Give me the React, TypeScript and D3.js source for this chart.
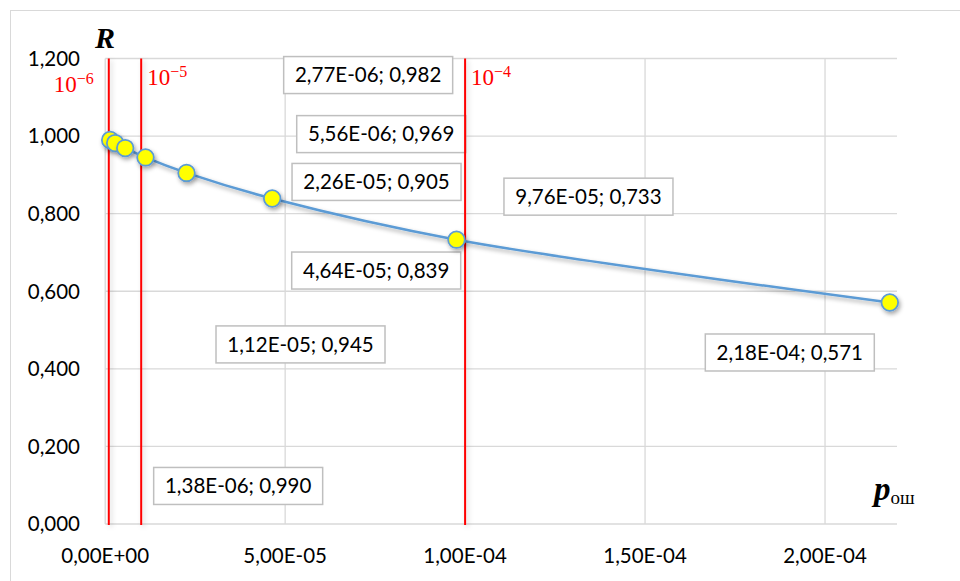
import React from "react";
import * as d3 from "d3";

const pValues = [1.38e-6, 2.77e-6, 5.56e-6, 1.12e-5, 2.26e-5, 4.64e-5, 9.76e-5, 2.18e-4];
const rValues = [0.99, 0.982, 0.969, 0.945, 0.905, 0.839, 0.733, 0.571];
const xTicks = [0, 5e-5, 1e-4, 1.5e-4, 2e-4];
const yTicks = [0, 0.2, 0.4, 0.6, 0.8, 1.0, 1.2];
const refLines = [1e-6, 1e-5, 1e-4];
const refLabels = ["−6", "−5", "−4"];

// label offsets from point (px) – layout only
const labelOffsets: [number, number][] = [
  [128, 346],
  [253, -68],
  [256, -14],
  [155, 187],
  [190, 9],
  [104, 72],
  [132, -43],
  [-100, 50],
];
const refLabelOffsets: [number, number][] = [
  [-55, 92],
  [6, 85],
  [6, 85],
];

const W = 960;
const H = 581;
const plot = { left: 105.2, right: 897, top: 58.5, bottom: 524 };

const fmtE = (v: number) => {
  const [m, e] = v.toExponential(2).split("e");
  const n = parseInt(e, 10);
  const sign = n < 0 ? "-" : "+";
  const ab = Math.abs(n).toString().padStart(2, "0");
  return `${m.replace(".", ",")}E${sign}${ab}`;
};
const fmtY = (v: number) => v.toFixed(3).replace(".", ",");

export default function App() {
  const x = d3.scaleLinear().domain([0, 2.2e-4]).range([plot.left, plot.right]);
  const y = d3.scaleLinear().domain([0, 1.2]).range([plot.bottom, plot.top]);
  const pts = pValues.map((p, i) => [x(p), y(rValues[i])] as [number, number]);
  const line = d3.line().curve(d3.curveCatmullRom.alpha(0.5))(pts) || "";
  const font = "Lato, 'Open Sans', sans-serif";
  const serif = "'Liberation Serif', 'DejaVu Serif', serif";

  return (
    <svg
      width={W}
      height={H}
      style={{ position: "absolute", left: 0, top: 0, background: "#fff" }}
    >
      <defs>
        <filter id="sh" filterUnits="userSpaceOnUse" x={0} y={0} width={W} height={H}>
          <feDropShadow dx="1.5" dy="2.5" stdDeviation="2" floodColor="#000" floodOpacity="0.35" />
        </filter>
        <filter id="shl" filterUnits="userSpaceOnUse" x={0} y={0} width={W} height={H}>
          <feDropShadow dx="2" dy="2" stdDeviation="2.5" floodColor="#000" floodOpacity="0.18" />
        </filter>
      </defs>
      <rect x={10.5} y={10.5} width={980} height={600} fill="#fff" stroke="#d9d9d9" strokeWidth={1} />

      {/* gridlines */}
      {yTicks.map((t) => (
        <line key={"gy" + t} x1={plot.left} x2={plot.right} y1={y(t)} y2={y(t)} stroke="#d9d9d9" strokeWidth={1.3} />
      ))}
      {xTicks.map((t) => (
        <line key={"gx" + t} x1={x(t)} x2={x(t)} y1={plot.top} y2={plot.bottom} stroke="#d9d9d9" strokeWidth={1.3} />
      ))}

      {/* y tick labels */}
      {yTicks.map((t) => (
        <text key={"ly" + t} x={80} y={y(t)} dy="0.36em" textAnchor="end" fontFamily={font} fontSize={20.5} fill="#000">
          {fmtY(t)}
        </text>
      ))}
      {/* x tick labels */}
      {xTicks.map((t) => (
        <text key={"lx" + t} x={x(t)} y={563} textAnchor="middle" fontFamily={font} fontSize={20.5} fill="#000">
          {fmtE(t)}
        </text>
      ))}

      {/* data labels */}
      {pts.map(([px, py], i) => {
        const cx = px + labelOffsets[i][0];
        const cy = py + labelOffsets[i][1];
        return (
          <g key={"dl" + i}>
            <rect x={cx - 84.5} y={cy - 18.5} width={169} height={37} fill="#fff" stroke="#bfbfbf" strokeWidth={1.5} />
            <text x={cx} y={cy} dy="0.36em" textAnchor="middle" fontFamily={font} fontSize={20.5} fill="#000">
              {`${fmtE(pValues[i])}; ${fmtY(rValues[i])}`}
            </text>
          </g>
        );
      })}

      {/* reference lines */}
      {refLines.map((v, i) => (
        <g key={"rl" + i}>
          <line x1={x(v)} x2={x(v)} y1={plot.top} y2={plot.bottom + 1} stroke="#ff0000" strokeWidth={2} filter="url(#shl)" />
          <text x={x(v) + refLabelOffsets[i][0]} y={refLabelOffsets[i][1]} fontFamily={serif} fontSize={23} fill="#ff0000">
            10
            <tspan fontSize={16} dy={-8}>
              {refLabels[i]}
            </tspan>
          </text>
        </g>
      ))}

      {/* series */}
      <path d={line} fill="none" stroke="#5b9bd5" strokeWidth={2.5} filter="url(#sh)" />
      {pts.map(([px, py], i) => (
        <circle key={"pt" + i} cx={px} cy={py} r={8.3} fill="#ffff00" stroke="#5b9bd5" strokeWidth={1.75} filter="url(#sh)" />
      ))}

      {/* axis titles */}
      <text x={105} y={48} textAnchor="middle" fontFamily={serif} fontStyle="italic" fontWeight="bold" fontSize={30} fill="#000">
        R
      </text>
      <text x={874} y={500} fontFamily={serif} fill="#000">
        <tspan fontStyle="italic" fontWeight="bold" fontSize={33}>p</tspan>
        <tspan fontSize={19} dy={4}>ош</tspan>
      </text>
    </svg>
  );
}
